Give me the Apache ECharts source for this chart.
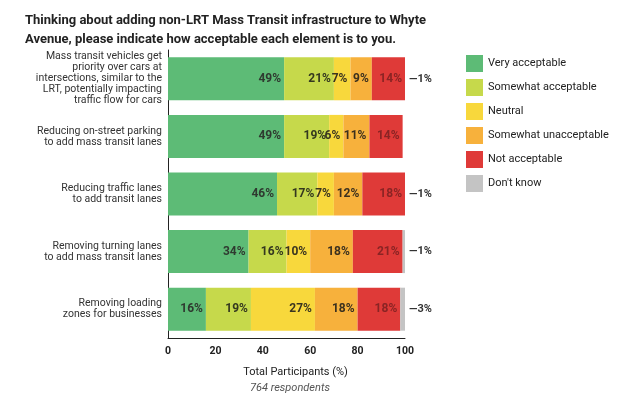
<!DOCTYPE html>
<html><head><meta charset="utf-8">
<script src="https://cdn.jsdelivr.net/npm/echarts@6/dist/echarts.min.js"></script>
<style>html,body{margin:0;padding:0;background:#fff}#c{width:620px;height:408px}</style>
</head><body><div id="c"></div>
<script>
const categories = [
  "Mass transit vehicles get\npriority over cars at\nintersections, similar to the\nLRT, potentially impacting\ntraffic flow for cars",
  "Reducing on-street parking\nto add mass transit lanes",
  "Reducing traffic lanes\nto add transit lanes",
  "Removing turning lanes\nto add mass transit lanes",
  "Removing loading\nzones for businesses"
];
const seriesNames = ["Very acceptable","Somewhat acceptable","Neutral","Somewhat unacceptable","Not acceptable","Don't know"];
const veryAcceptable = [49,49,46,34,16];
const somewhatAcceptable = [21,19,17,16,19];
const neutral = [7,6,7,10,27];
const somewhatUnacceptable = [9,11,12,18,18];
const notAcceptable = [14,14,18,21,18];
const dontKnow = [1,0,1,1,3];
const xTicks = [0,20,40,60,80,100];

const colors = ['#5dbb76','#c6d94b','#f8d83c','#f7b13c','#df3a38','#c4c4c4'];
const values = [veryAcceptable,somewhatAcceptable,neutral,somewhatUnacceptable,notAcceptable,dontKnow];
const labelColors = ['#2f3a30','#34381f','#3a3520','#3b301e','#8a2424','#333'];
const FONT = 'Roboto';

const series = values.map((arr,i)=>({
  name: seriesNames[i], type:'bar', stack:'total', barWidth:43,
  data: arr,
  itemStyle:{color:colors[i]},
  label: i<5 ? {
    show:true, position:'insideRight', distance:3,
    formatter:p=>p.value+'%', fontFamily:FONT, fontWeight:'bold', fontSize:12, color:labelColors[i]
  } : {
    show:true, position:'right', distance:4,
    formatter:p=>p.value>0?'\u2014'+p.value+'%':'', fontFamily:FONT, fontWeight:'bold', fontSize:11, color:'#333'
  }
}));

const chart = echarts.init(document.getElementById('c'));
chart.setOption({
  animation:false,
  textStyle:{fontFamily:FONT},
  title:{
    text:'Thinking about adding non-LRT Mass Transit infrastructure to Whyte\nAvenue, please indicate how acceptable each element is to you.',
    left:20, top:6,
    textStyle:{fontFamily:FONT,fontWeight:'bold',fontSize:13,color:'#222',lineHeight:19}
  },
  graphic:[{type:'text',left:250,top:383,style:{text:'764 respondents',font:'italic 11px Roboto',fill:'#555'}}],
  legend:{
    orient:'vertical', left:461, top:50, itemWidth:17, itemHeight:17, itemGap:7,
    icon:'rect', data:seriesNames,
    textStyle:{fontFamily:FONT,fontSize:11,color:'#222'}
  },
  grid:{left:168,top:50,width:237,height:288},
  xAxis:{
    type:'value', min:0, max:100, interval:20,
    axisLine:{show:true,lineStyle:{color:'#222'}}, axisTick:{show:false}, splitLine:{show:false},
    axisLabel:{fontFamily:FONT,fontSize:10.5,color:'#222',fontWeight:'bold',margin:8,
      formatter:v=>xTicks.includes(v)?String(v):''},
    name:'Total Participants (%)', nameLocation:'middle', nameGap:29,
    nameTextStyle:{fontFamily:FONT,fontSize:11,color:'#222',padding:[0,0,0,18]}
  },
  yAxis:{
    type:'category', inverse:true, data:categories,
    axisLine:{show:true,lineStyle:{color:'#222'}}, axisTick:{show:false},
    axisLabel:{fontFamily:FONT,fontSize:10.5,color:'#333',lineHeight:11,margin:6,align:'right'}
  },
  series
});
</script></body></html>
